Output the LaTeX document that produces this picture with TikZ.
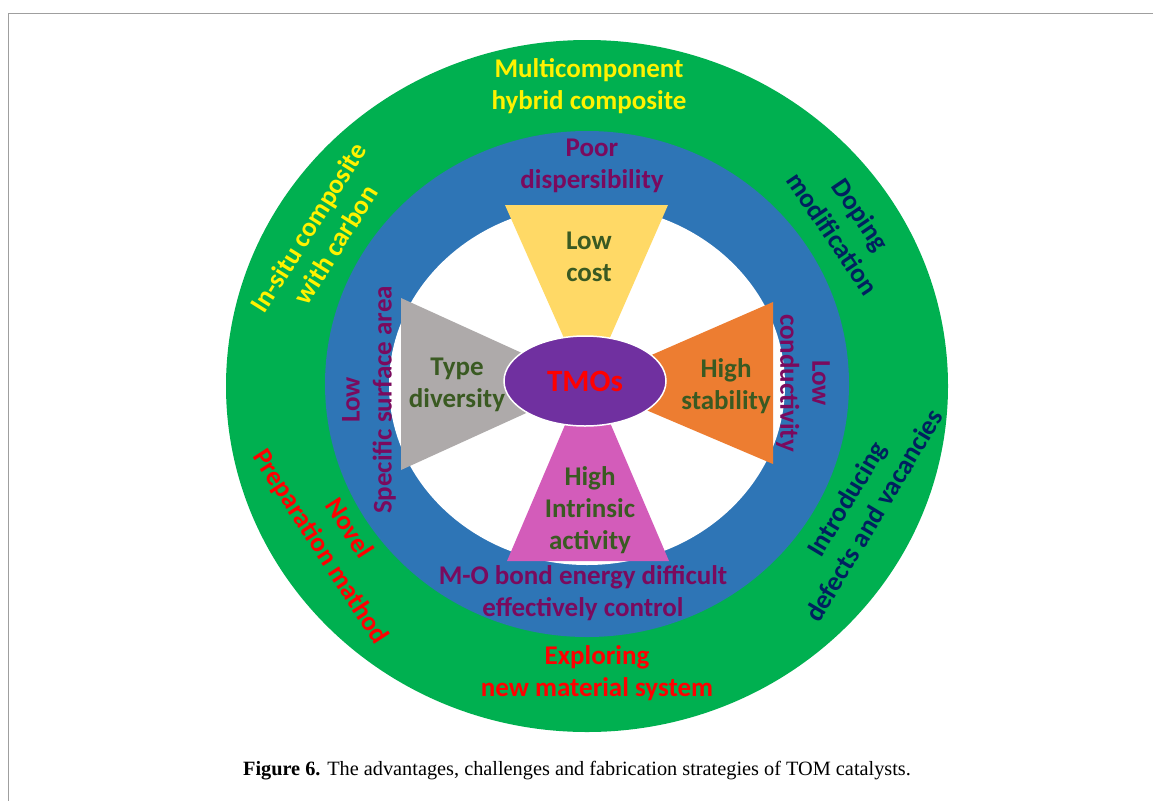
\documentclass[tikz,border=0pt]{standalone}
\usepackage{xcolor}
\usepackage{fontspec}
\usepackage{tikz}
\usetikzlibrary{shapes}
\setmainfont{Liberation Serif}
\newfontfamily\calibri{Carlito}

\definecolor{ringgreen}{HTML}{00B050}
\definecolor{ringblue}{HTML}{2E75B6}
\definecolor{costyellow}{HTML}{FFD966}
\definecolor{typegray}{HTML}{AEAAAA}
\definecolor{staborange}{HTML}{ED7D31}
\definecolor{actpink}{HTML}{D35CBA}
\definecolor{tmopurple}{HTML}{7030A0}
\definecolor{advgreen}{HTML}{3A5A22}
\definecolor{chalpurple}{HTML}{7A0A5E}
\definecolor{stratnavy}{HTML}{002060}

\begin{document}
\begin{tikzpicture}[x=1pt,y=-1pt,
  lbl/.style={font=\calibri\bfseries\fontsize{27}{32}\selectfont,align=center,inner sep=0pt},
  adv/.style={lbl,text=advgreen},
  chal/.style={lbl,text=chalpurple}]
\useasboundingbox (0,0) rectangle (1153,801);
\draw[gray!75,line width=1.5pt] (1153,13.5) -- (8.5,13.5) -- (8.5,801);

\fill[ringgreen] (587,386) ellipse [x radius=361,y radius=346];
\fill[ringblue] (587,384) ellipse [x radius=262,y radius=253];
\fill[white] (587,385) ellipse [x radius=198,y radius=180];

\fill[costyellow] (587,390) -- (505,205) -- (668,205) -- cycle;
\fill[typegray] (590,384) -- (401,298) -- (401,470) -- cycle;
\fill[staborange] (585,384) -- (773,302) -- (773,464) -- cycle;
\fill[actpink] (588,371) -- (507,561) -- (669,561) -- cycle;
\node[ellipse,fill=tmopurple,draw=white,line width=1.5pt,minimum width=162,minimum height=90,
  text=red,font=\calibri\bfseries\fontsize{31}{34}\selectfont] (tmo) at (585,381) {TMOs};

% advantages
\node[adv] (cost) at (589,257) {Low\\cost};
\node[adv] (type) at (457,385) {Type\\diversity};
\node[adv] (stab) at (726,386) {High\\stability};
\node[adv] (activ) at (590,510) {High\\Intrinsic\\activity};

% challenges
\node[chal] (disp) at (592,166) {Poor\\dispersibility};
\node[chal,rotate=90] (surf) at (369,400) {Low\\Specific surface area};
\node[chal,rotate=-90] (cond) at (803,383) {Low\\conductivity};
\node[chal] (bond) at (583,593) {M-O bond energy difficult\\effectively control};

% strategies
\node[lbl,text=yellow] (multi) at (589,86) {Multicomponent\\hybrid composite};
\node[lbl,text=yellow,rotate=58] (insitu) at (322,236) {In-situ composite\\with carbon};
\node[lbl,text=stratnavy,rotate=-56,font=\calibri\bfseries\fontsize{27}{34}\selectfont] (dop) at (847,224) {Doping\\modification};
\node[lbl,text=stratnavy,rotate=59] (defect) at (860,507) {Introducing\\defects and vacancies};
\node[lbl,text=red] (explore) at (597,673) {Exploring\\new material system};
\node[lbl,text=red,rotate=-57,font=\calibri\bfseries\fontsize{27}{34}\selectfont] (novel) at (334,538) {Novel\\Preparation mathod};

\node[font=\fontsize{20.3}{24}\selectfont] (cap) at (577,771)
  {\textbf{Figure 6.} The advantages, challenges and fabrication strategies of TOM catalysts.};
\end{tikzpicture}
\end{document}
